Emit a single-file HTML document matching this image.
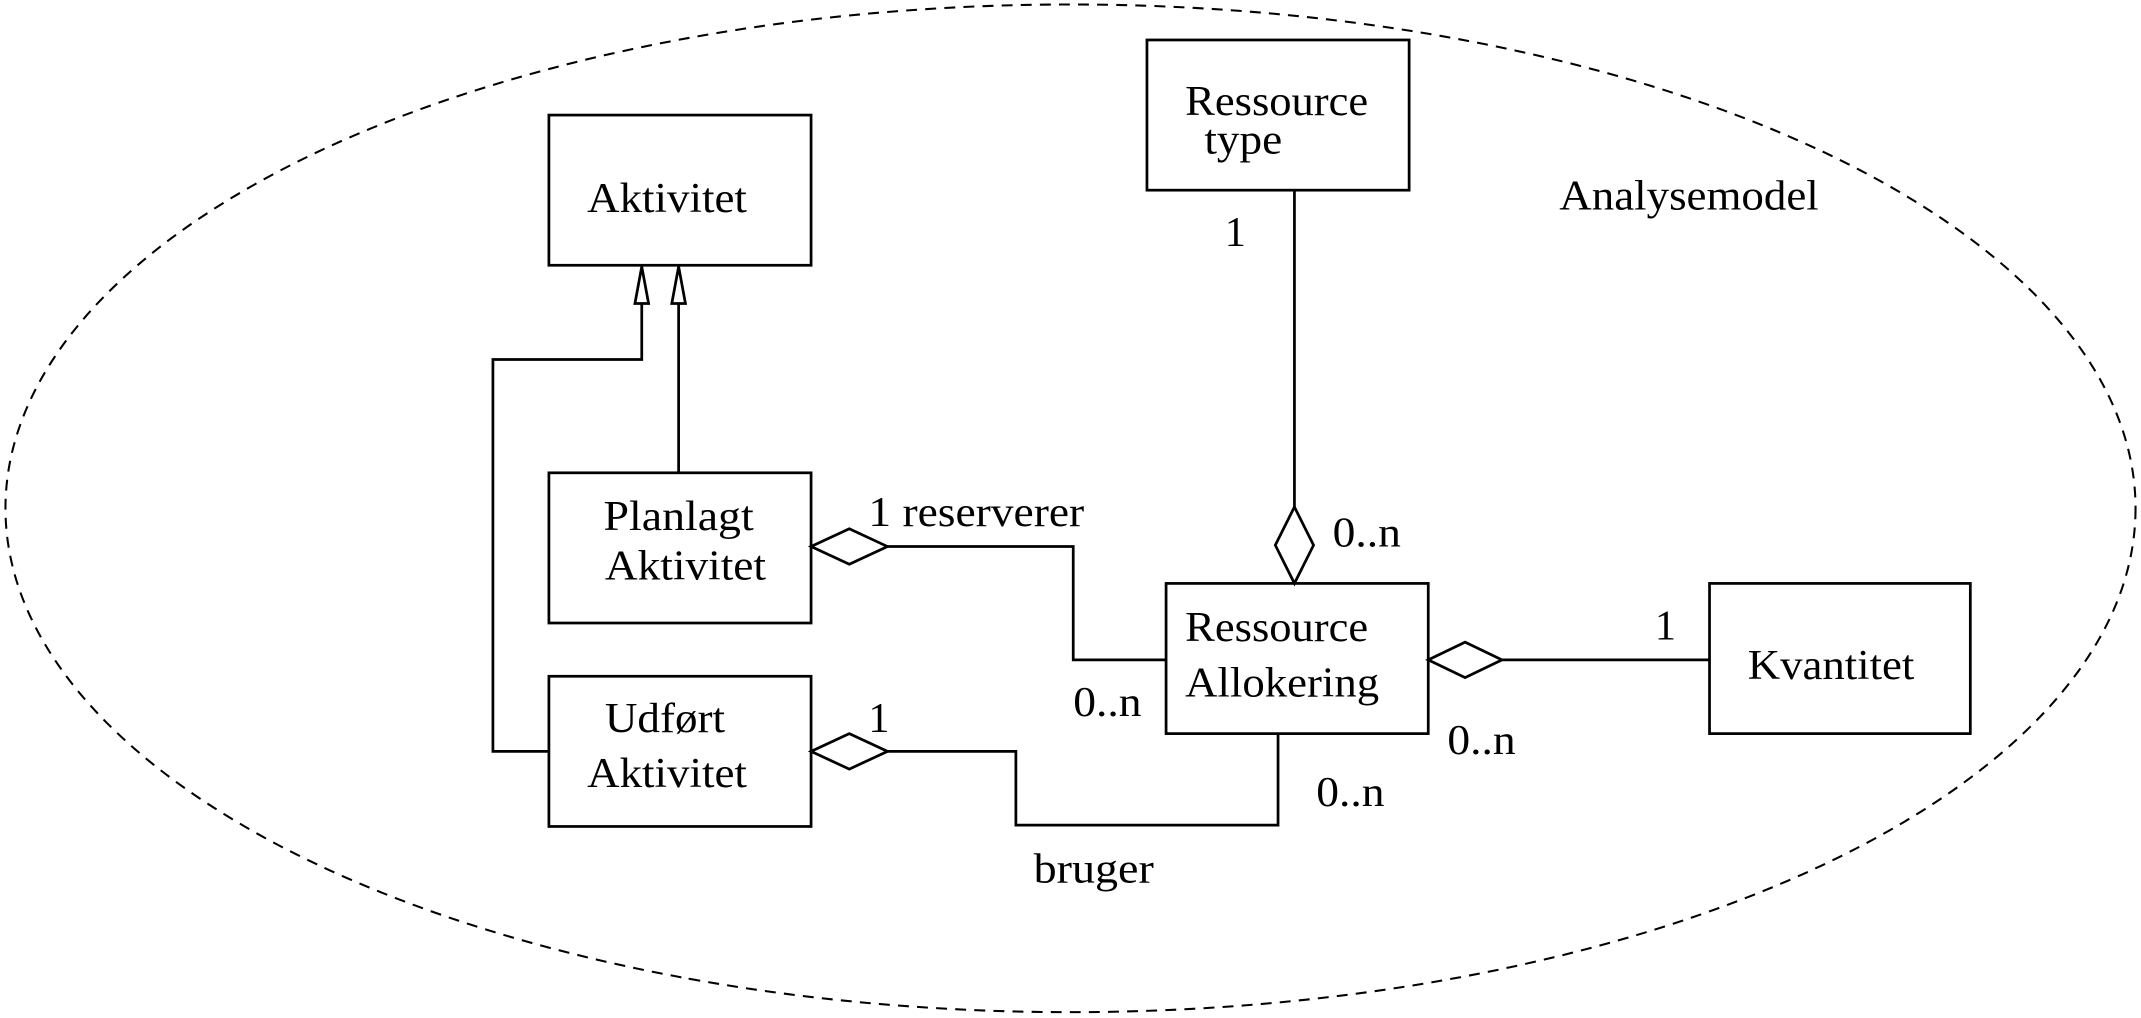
<!DOCTYPE html>
<html><head><meta charset="utf-8"><style>
html,body{margin:0;padding:0;background:#fff;}
svg{display:block;}
text{font-family:"Liberation Serif",serif;font-size:31px;fill:#000;}
</style></head><body>
<svg width="2141" height="1018" viewBox="0 0 1568 745" xmlns="http://www.w3.org/2000/svg">
<g fill="none" stroke="#000" stroke-width="2">
<ellipse cx="784" cy="372" rx="780" ry="369" stroke-width="1.5" stroke-dasharray="8,6"/>
<rect x="402" y="84" width="192" height="110"/>
<rect x="840" y="29" width="192" height="110"/>
<rect x="402" y="346" width="192" height="110"/>
<rect x="402" y="495" width="192" height="110"/>
<rect x="854" y="427" width="192" height="110"/>
<rect x="1252" y="427" width="191" height="110"/>
<polyline points="497,346 497,222"/>
<polygon points="497,195 492,222 502,222"/>
<polyline points="402,550 361,550 361,263 470,263 470,222"/>
<polygon points="470,195 465,222 475,222"/>
<polyline points="948,139 948,371"/>
<polygon points="948,371 962,399 948,427 934,399"/>
<polygon points="594,400 622,387 650,400 622,413"/>
<polyline points="650,400 786,400 786,483 854,483"/>
<polygon points="1046,483 1073,470 1100,483 1073,496"/>
<polyline points="1100,483 1252,483"/>
<polygon points="594,550 622,537 650,550 622,563"/>
<polyline points="650,550 744,550 744,604 936,604 936,537"/>
</g>
<text x="430" y="155" textLength="117" lengthAdjust="spacingAndGlyphs">Aktivitet</text>
<text x="868" y="84" textLength="134" lengthAdjust="spacingAndGlyphs">Ressource</text>
<text x="882" y="112" textLength="57" lengthAdjust="spacingAndGlyphs">type</text>
<text x="1142" y="153" textLength="190" lengthAdjust="spacingAndGlyphs">Analysemodel</text>
<text x="897" y="180">1</text>
<text x="442" y="388" textLength="110" lengthAdjust="spacingAndGlyphs">Planlagt</text>
<text x="443" y="424" textLength="118" lengthAdjust="spacingAndGlyphs">Aktivitet</text>
<text x="443" y="536" textLength="88" lengthAdjust="spacingAndGlyphs">Udført</text>
<text x="430" y="576" textLength="117" lengthAdjust="spacingAndGlyphs">Aktivitet</text>
<text x="868" y="469" textLength="134" lengthAdjust="spacingAndGlyphs">Ressource</text>
<text x="868" y="510" textLength="142" lengthAdjust="spacingAndGlyphs">Allokering</text>
<text x="1280" y="497" textLength="122" lengthAdjust="spacingAndGlyphs">Kvantitet</text>
<text x="636" y="385" textLength="158" lengthAdjust="spacingAndGlyphs">1 reserverer</text>
<text x="976" y="400" textLength="50" lengthAdjust="spacingAndGlyphs">0..n</text>
<text x="786" y="524" textLength="50" lengthAdjust="spacingAndGlyphs">0..n</text>
<text x="1212" y="468">1</text>
<text x="1060" y="552" textLength="50" lengthAdjust="spacingAndGlyphs">0..n</text>
<text x="636" y="536">1</text>
<text x="964" y="590" textLength="50" lengthAdjust="spacingAndGlyphs">0..n</text>
<text x="757" y="646" textLength="88" lengthAdjust="spacingAndGlyphs">bruger</text>
</svg>
</body></html>
